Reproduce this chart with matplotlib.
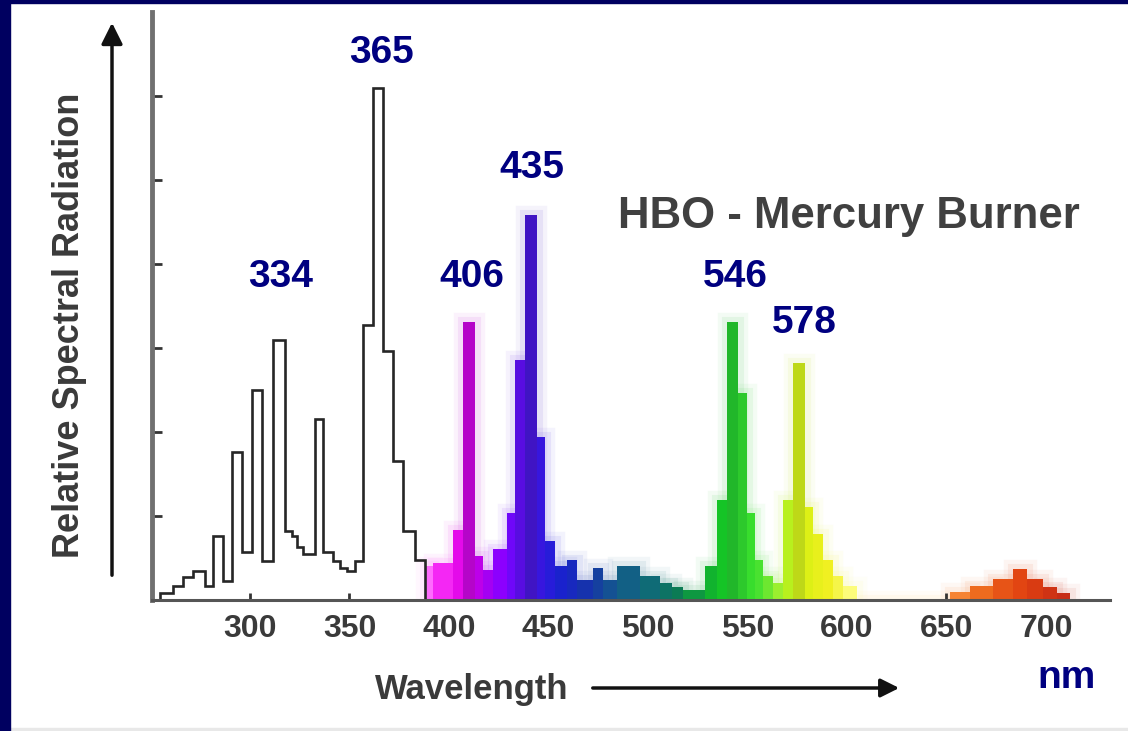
import numpy as np
import matplotlib.pyplot as plt
from matplotlib.colors import LinearSegmentedColormap
from matplotlib.patches import FancyArrowPatch, Rectangle

# UV part of the spectrum (drawn as black step outline), wavelength in nm
uv_edges = [254.8, 261.5, 266.5, 271.5, 277.4, 281.6, 286.6, 290.8, 295.8,
            300.8, 305.9, 311.7, 317.6, 320.9, 323.4, 326.8, 332.6, 336.8,
            341.9, 345.2, 348.6, 352.8, 357.0, 362.0, 367.0, 372.0, 377.0,
            382.9, 388.0]
uv_heights = [0.08, 0.17, 0.27, 0.34, 0.17, 0.76, 0.23, 1.76, 0.57, 2.50,
              0.46, 3.10, 0.82, 0.76, 0.63, 0.55, 2.16, 0.57, 0.46, 0.38,
              0.34, 0.46, 3.27, 6.09, 2.97, 1.65, 0.82, 0.48]

# visible part (coloured bars)
vis_edges = [388.0, 392.1, 402.2, 407.2, 413.1, 417.3, 422.3, 429.0, 433.2,
             438.2, 444.1, 448.2, 453.3, 459.1, 464.2, 472.5, 477.6, 484.3,
             496.0, 506.0, 511.9, 517.8, 528.6, 534.5, 539.5, 545.4, 549.6,
             553.8, 557.9, 563.0, 568.0, 573.0, 578.9, 583.1, 588.1, 593.1,
             598.2, 604.9, 651.8, 661.8, 673.5, 683.6, 690.3, 698.7, 705.4,
             712.1]
vis_heights = [0.40, 0.44, 0.83, 3.31, 0.52, 0.36, 0.61, 1.03, 2.86, 4.58,
               1.94, 0.70, 0.40, 0.48, 0.24, 0.38, 0.24, 0.40, 0.28, 0.20,
               0.15, 0.12, 0.40, 1.19, 3.31, 2.46, 1.03, 0.48, 0.28, 0.20,
               1.19, 2.82, 1.11, 0.79, 0.48, 0.28, 0.17, 0.00, 0.10, 0.17,
               0.25, 0.37, 0.25, 0.15, 0.08]

tick_nm = [300, 350, 400, 450, 500, 550, 600, 650, 700]
peak_labels = ["334", "365", "406", "435", "546", "578"]

W, H = 1128, 731
NAVY = "#000080"
FONT = "Liberation Sans"


def fx(px):
    return px / W


def fy(py):
    return 1 - py / H


fig = plt.figure(figsize=(W / 100, H / 100), dpi=100)
fig.patch.set_facecolor("white")

ax = fig.add_axes([fx(152), fy(600), fx(1110) - fx(152), fy(12) - fy(600)])
ax.set_xlim(250.75, 732.2)
ax.set_ylim(0, 7.0)

# wavelength -> colour, roughly as the picture shows it
spec_nm = [380, 390, 400, 410, 425, 440, 455, 470, 485, 500, 515, 530, 540,
           555, 565, 575, 590, 605, 640, 665, 690, 715]
spec_col = ["#ffd8f0", "#ff60ff", "#f010f0", "#d000e0", "#8a00ff", "#4a10f0",
            "#1a20d0", "#1535a8", "#145a8c", "#0f6a78", "#0b7a55", "#10b030",
            "#18d020", "#40e030", "#9aef30", "#d0f010", "#f0f020", "#ffff90",
            "#ffb060", "#f07020", "#e04010", "#c02818"]
lo, hi = spec_nm[0], spec_nm[-1]
cmap = LinearSegmentedColormap.from_list(
    "hg", [((n - lo) / (hi - lo), c) for n, c in zip(spec_nm, spec_col)])

edges = np.array(vis_edges)
centers = (edges[:-1] + edges[1:]) / 2
cols = []
for c, h in zip(centers, vis_heights):
    rgb = np.array(cmap((c - lo) / (hi - lo))[:3])
    k = 0.3 * np.clip((h - 1.5) / 3.5, 0, 1)   # tall narrow lines look darker
    cols.append(rgb * (1 - k) + np.array([0.15, 0.12, 0.3]) * k)

# soft glow round the coloured bars, like the blurred original
for lw, a in [(14, 0.05), (8, 0.08)]:
    ax.bar(edges[:-1], vis_heights, width=np.diff(edges), align="edge",
           color="none", edgecolor=cols, linewidth=lw, alpha=a, zorder=1)
ax.bar(edges[:-1], vis_heights, width=np.diff(edges), align="edge",
       color=cols, edgecolor="none", zorder=2)
ax.stairs(uv_heights, uv_edges, color="#262626", lw=1.9, zorder=3)

# axes styling
for s in ["top", "right"]:
    ax.spines[s].set_visible(False)
ax.spines["left"].set_color("#707070")
ax.spines["left"].set_linewidth(3.5)
ax.spines["bottom"].set_color("#555555")
ax.spines["bottom"].set_linewidth(2.2)
ax.spines["left"].set_zorder(5)
ax.spines["bottom"].set_zorder(5)

ax.set_yticks(np.arange(1, 7))
ax.set_yticklabels([])
ax.tick_params(axis="y", direction="in", length=7, width=2, color="#333333")
ax.set_xticks(tick_nm)
ax.set_xticklabels([str(t) for t in tick_nm])
ax.tick_params(axis="x", direction="in", length=5, width=2, color="#333333",
               pad=10, labelsize=23, labelcolor="#3a3a3a")
for lab in ax.get_xticklabels():
    lab.set_fontfamily(FONT)
    lab.set_fontweight("bold")

# peak labels
label_pos = {"334": (315.6, 3.73), "365": (366.0, 6.39), "406": (411.6, 3.73),
             "435": (441.7, 5.02), "546": (543.7, 3.73), "578": (578.4, 3.18)}
for lab in peak_labels:
    x, y = label_pos[lab]
    ax.text(x, y, lab, ha="center", va="baseline", fontsize=28,
            fontweight="bold", color=NAVY, family=FONT, zorder=6)

fig.text(fx(618), fy(228), "HBO - Mercury Burner", ha="left", va="baseline",
         fontsize=31.5, fontweight="bold", color="#404040", family=FONT)
fig.text(fx(1067), fy(688), "nm", ha="center", va="baseline", fontsize=28,
         fontweight="bold", color=NAVY, family=FONT)
fig.text(fx(472), fy(699), "Wavelength", ha="center", va="baseline",
         fontsize=25, fontweight="bold", color="#3a3a3a", family=FONT)
fig.text(fx(70), fy(325), "Relative Spectral Radiation", rotation=90,
         ha="center", va="center", fontsize=26, fontweight="bold",
         color="#3a3a3a", family=FONT)

# arrows beside the axis titles
fig.add_artist(FancyArrowPatch((fx(112), fy(578)), (fx(112), fy(20)),
                               transform=fig.transFigure, arrowstyle="-|>",
                               mutation_scale=32, lw=2.5, color="#111111"))
fig.add_artist(FancyArrowPatch((fx(590), fy(688)), (fx(902), fy(688)),
                               transform=fig.transFigure, arrowstyle="-|>",
                               mutation_scale=28, lw=2.5, color="#111111"))

# slide frame
fig.add_artist(Rectangle((0, 0), fx(10), 1, transform=fig.transFigure,
                         color="#000060", zorder=10))
fig.add_artist(Rectangle((0, fy(3)), 1, 3 / H, transform=fig.transFigure,
                         color="#000060", zorder=10))
fig.add_artist(Rectangle((0, 0), 1, 3 / H, transform=fig.transFigure,
                         color="#e8e8e8", zorder=9))

fig.savefig("out.png", dpi=100)
